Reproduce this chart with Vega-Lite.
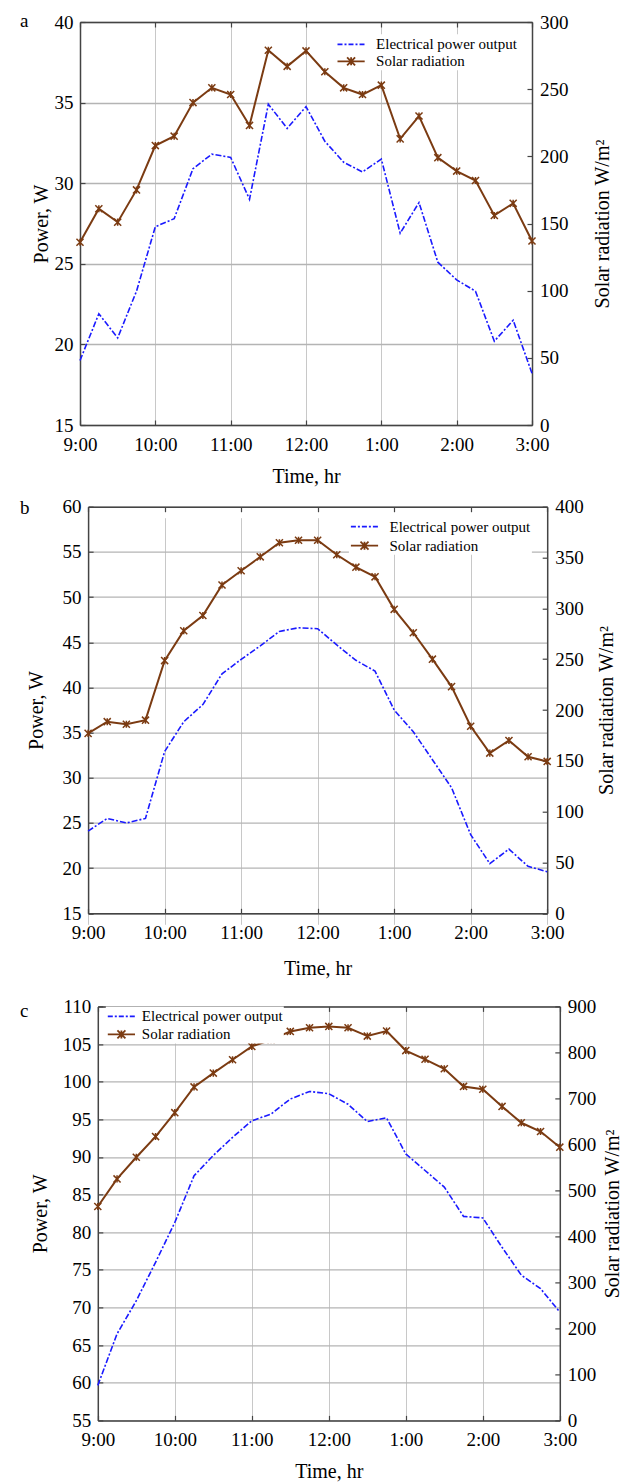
{
  "$schema": "https://vega.github.io/schema/vega-lite/v6.json",
  "autosize": {"type": "pad"},
  "padding": {"left": 20, "top": 11, "right": 5, "bottom": 0},
  "background": "white",
  "bounds": "flush",
  "spacing": 81.7,
  "datasets": {
    "a": [
      {"time": "9:00", "min": 0, "power": 19.0, "solar": 136},
      {"time": "9:15", "min": 15, "power": 21.9, "solar": 161},
      {"time": "9:30", "min": 30, "power": 20.4, "solar": 151},
      {"time": "9:45", "min": 45, "power": 23.3, "solar": 175},
      {"time": "10:00", "min": 60, "power": 27.3, "solar": 208},
      {"time": "10:15", "min": 75, "power": 27.8, "solar": 215},
      {"time": "10:30", "min": 90, "power": 30.9, "solar": 240},
      {"time": "10:45", "min": 105, "power": 31.8, "solar": 251},
      {"time": "11:00", "min": 120, "power": 31.6, "solar": 246},
      {"time": "11:15", "min": 135, "power": 29.0, "solar": 223},
      {"time": "11:30", "min": 150, "power": 34.9, "solar": 279},
      {"time": "11:45", "min": 165, "power": 33.4, "solar": 267},
      {"time": "12:00", "min": 180, "power": 34.75, "solar": 278.5},
      {"time": "12:15", "min": 195, "power": 32.6, "solar": 263},
      {"time": "12:30", "min": 210, "power": 31.3, "solar": 251},
      {"time": "12:45", "min": 225, "power": 30.7, "solar": 246},
      {"time": "1:00", "min": 240, "power": 31.5, "solar": 253},
      {"time": "1:15", "min": 255, "power": 26.9, "solar": 213},
      {"time": "1:30", "min": 270, "power": 28.8, "solar": 230},
      {"time": "1:45", "min": 285, "power": 25.1, "solar": 199},
      {"time": "2:00", "min": 300, "power": 24.0, "solar": 189},
      {"time": "2:15", "min": 315, "power": 23.3, "solar": 182},
      {"time": "2:30", "min": 330, "power": 20.2, "solar": 156},
      {"time": "2:45", "min": 345, "power": 21.5, "solar": 165},
      {"time": "3:00", "min": 360, "power": 18.2, "solar": 137}
    ],
    "b": [
      {"time": "9:00", "min": 0, "power": 24.1, "solar": 177},
      {"time": "9:15", "min": 15, "power": 25.5, "solar": 188.5},
      {"time": "9:30", "min": 30, "power": 25.0, "solar": 186},
      {"time": "9:45", "min": 45, "power": 25.5, "solar": 190},
      {"time": "10:00", "min": 60, "power": 32.9, "solar": 248.6},
      {"time": "10:15", "min": 75, "power": 36.2, "solar": 278},
      {"time": "10:30", "min": 90, "power": 38.1, "solar": 293},
      {"time": "10:45", "min": 105, "power": 41.5, "solar": 323},
      {"time": "11:00", "min": 120, "power": 43.1, "solar": 337},
      {"time": "11:15", "min": 135, "power": 44.6, "solar": 350.7},
      {"time": "11:30", "min": 150, "power": 46.2, "solar": 364.5},
      {"time": "11:45", "min": 165, "power": 46.6, "solar": 367},
      {"time": "12:00", "min": 180, "power": 46.5, "solar": 367},
      {"time": "12:15", "min": 195, "power": 44.7, "solar": 352.7},
      {"time": "12:30", "min": 210, "power": 43.0, "solar": 340.5},
      {"time": "12:45", "min": 225, "power": 41.8, "solar": 331},
      {"time": "1:00", "min": 240, "power": 37.5, "solar": 299},
      {"time": "1:15", "min": 255, "power": 35.1, "solar": 276},
      {"time": "1:30", "min": 270, "power": 32.0, "solar": 250},
      {"time": "1:45", "min": 285, "power": 28.9, "solar": 223},
      {"time": "2:00", "min": 300, "power": 23.7, "solar": 184},
      {"time": "2:15", "min": 315, "power": 20.5, "solar": 157.6},
      {"time": "2:30", "min": 330, "power": 22.1, "solar": 170},
      {"time": "2:45", "min": 345, "power": 20.2, "solar": 154},
      {"time": "3:00", "min": 360, "power": 19.6, "solar": 149.4}
    ],
    "c": [
      {"time": "9:00", "min": 0, "power": 59.65, "solar": 465},
      {"time": "9:15", "min": 15, "power": 66.5, "solar": 525},
      {"time": "9:30", "min": 30, "power": 70.9, "solar": 572},
      {"time": "9:45", "min": 45, "power": 76.0, "solar": 617},
      {"time": "10:00", "min": 60, "power": 81.3, "solar": 669},
      {"time": "10:15", "min": 75, "power": 87.5, "solar": 725},
      {"time": "10:30", "min": 90, "power": 90.2, "solar": 755},
      {"time": "10:45", "min": 105, "power": 92.6, "solar": 784},
      {"time": "11:00", "min": 120, "power": 94.8, "solar": 813},
      {"time": "11:15", "min": 135, "power": 95.7, "solar": 827.5},
      {"time": "11:30", "min": 150, "power": 97.7, "solar": 845.6},
      {"time": "11:45", "min": 165, "power": 98.7, "solar": 853.6},
      {"time": "12:00", "min": 180, "power": 98.4, "solar": 856.5},
      {"time": "12:15", "min": 195, "power": 97.0, "solar": 853.6},
      {"time": "12:30", "min": 210, "power": 94.7, "solar": 835.5},
      {"time": "12:45", "min": 225, "power": 95.2, "solar": 846.4},
      {"time": "1:00", "min": 240, "power": 90.4, "solar": 804},
      {"time": "1:15", "min": 255, "power": 88.2, "solar": 785},
      {"time": "1:30", "min": 270, "power": 86.0, "solar": 764.5},
      {"time": "1:45", "min": 285, "power": 82.1, "solar": 726},
      {"time": "2:00", "min": 300, "power": 81.9, "solar": 720},
      {"time": "2:15", "min": 315, "power": 78.0, "solar": 682.6},
      {"time": "2:30", "min": 330, "power": 74.3, "solar": 647},
      {"time": "2:45", "min": 345, "power": 72.5, "solar": 628},
      {"time": "3:00", "min": 360, "power": 69.4, "solar": 594}
    ]
  },
  "vconcat": [
    {
      "width": 452, "height": 403,
      "title": {"text": "a", "anchor": "start", "frame": "group", "dx": -60, "offset": -26.8, "baseline": "middle"},
      "data": {"name": "a"},
      "layer": [
        {
          "mark": {"type": "line", "strokeDash": [6, 2, 2, 2], "strokeWidth": 1.6},
          "encoding": {
            "x": {"field": "min", "type": "quantitative", "scale": {"domain": [0, 360], "nice": false, "zero": false},
              "axis": {"orient": "bottom", "values": [0, 60, 120, 180, 240, 300, 360], "labelExpr": "((floor(datum.value / 60) + 8) % 12 + 1) + ':00'", "title": "Time, hr", "grid": true, "labelPadding": 15, "titlePadding": 12}},
            "y": {"field": "power", "type": "quantitative", "scale": {"domain": [15, 40], "nice": false, "zero": false},
              "axis": {"orient": "left", "values": [15, 20, 25, 30, 35, 40], "title": "Power, W", "grid": true, "gridColor": "#b4b4b4", "gridWidth": 1.3, "labelPadding": 12, "titlePadding": 3}},
            "color": {"datum": "Electrical power output",
              "scale": {"domain": ["Electrical power output", "Solar radiation"], "range": ["#1a1aff", "#7b3b12"]},
              "legend": {"orient": "none", "legendX": 255.5, "legendY": 12.3, "title": null, "fillColor": "white", "padding": 1, "rowPadding": 0,
                "symbolSize": 256, "symbolStrokeWidth": 1.8, "labelOffset": 21.6, "labelFontSize": 15, "labelFont": "Liberation Serif", "labelColor": "black",
                "encode": {"symbols": {"update": {
                  "shape": {"signal": "datum.value === 'Solar radiation' ? 'M-1,0L2.4,0M0.2,-0.5L1.2,0.5M0.2,0.5L1.2,-0.5M0.7,-0.5L0.7,0.5' : 'M-1,0L2.4,0'"},
                  "strokeDash": {"signal": "datum.value === 'Solar radiation' ? [] : [5,2,2,2]"},
                  "fill": {"value": "transparent"}}}}}}
          }
        },
        {
          "mark": {"type": "line", "strokeWidth": 2, "point": {"shape": "M-1,-1L1,1M-1,1L1,-1M0,-1L0,1", "filled": false, "size": 50, "strokeWidth": 1.5}},
          "encoding": {
            "x": {"field": "min", "type": "quantitative", "scale": {"domain": [0, 360], "nice": false, "zero": false},
              "axis": {"orient": "top", "values": [0, 60, 120, 180, 240, 300, 360], "labels": false, "title": null, "grid": false}},
            "y": {"field": "solar", "type": "quantitative", "scale": {"domain": [0, 300], "nice": false, "zero": false},
              "axis": {"orient": "right", "values": [0, 50, 100, 150, 200, 250, 300], "title": "Solar radiation W/m²", "titleAngle": 270, "titleBaseline": "top", "grid": false, "labelPadding": 12.5, "titlePadding": 24}},
            "color": {"datum": "Solar radiation"}
          }
        }
      ],
      "resolve": {"scale": {"y": "independent"}, "axis": {"x": "independent"}}
    },
    {
      "width": 467.2, "height": 417.6,
      "title": {"text": "b", "anchor": "start", "frame": "group", "dx": -60, "offset": -28.8, "baseline": "middle"},
      "data": {"name": "b"},
      "layer": [
        {
          "mark": {"type": "line", "strokeDash": [6, 2, 2, 2], "strokeWidth": 1.6},
          "encoding": {
            "x": {"field": "min", "type": "quantitative", "scale": {"domain": [0, 360], "range": [8.1, 467.2], "nice": false, "zero": false},
              "axis": {"orient": "bottom", "offset": -11, "values": [0, 60, 120, 180, 240, 300, 360], "labelExpr": "((floor(datum.value / 60) + 8) % 12 + 1) + ':00'", "title": "Time, hr", "grid": true, "labelPadding": 15, "titlePadding": 16}},
            "y": {"field": "power", "type": "quantitative", "scale": {"domain": [15, 60], "range": [406.6, 0], "nice": false, "zero": false},
              "axis": {"orient": "left", "offset": -8.1, "values": [15, 20, 25, 30, 35, 40, 45, 50, 55, 60], "title": "Power, W", "grid": true, "gridColor": "#b4b4b4", "gridWidth": 1.3, "labelPadding": 12, "titlePadding": 16}},
            "color": {"datum": "Electrical power output",
              "scale": {"domain": ["Electrical power output", "Solar radiation"], "range": ["#1a1aff", "#7b3b12"]},
              "legend": {"orient": "none", "legendX": 268.9, "legendY": 10, "title": null, "fillColor": "white", "padding": 1, "rowPadding": 2,
                "symbolSize": 256, "symbolStrokeWidth": 1.8, "labelOffset": 21.6, "labelFontSize": 15, "labelFont": "Liberation Serif", "labelColor": "black",
                "encode": {"symbols": {"update": {
                  "shape": {"signal": "datum.value === 'Solar radiation' ? 'M-1,0L2.4,0M0.2,-0.5L1.2,0.5M0.2,0.5L1.2,-0.5M0.7,-0.5L0.7,0.5' : 'M-1,0L2.4,0'"},
                  "strokeDash": {"signal": "datum.value === 'Solar radiation' ? [] : [5,2,2,2]"},
                  "fill": {"value": "transparent"}}}}}}
          }
        },
        {
          "mark": {"type": "line", "strokeWidth": 2, "point": {"shape": "M-1,-1L1,1M-1,1L1,-1M0,-1L0,1", "filled": false, "size": 50, "strokeWidth": 1.5}},
          "encoding": {
            "x": {"field": "min", "type": "quantitative", "scale": {"domain": [0, 360], "range": [8.1, 467.2], "nice": false, "zero": false},
              "axis": {"orient": "top", "values": [0, 60, 120, 180, 240, 300, 360], "labels": false, "title": null, "grid": false}},
            "y": {"field": "solar", "type": "quantitative", "scale": {"domain": [0, 400], "range": [406.6, 0], "nice": false, "zero": false},
              "axis": {"orient": "right", "values": [0, 50, 100, 150, 200, 250, 300, 350, 400], "title": "Solar radiation W/m²", "titleAngle": 270, "titleBaseline": "top", "grid": false, "labelPadding": 12.5, "titlePadding": 13}},
            "color": {"datum": "Solar radiation"}
          }
        }
      ],
      "resolve": {"scale": {"y": "independent"}, "axis": {"x": "independent"}}
    },
    {
      "width": 479.8, "height": 414,
      "title": {"text": "c", "anchor": "start", "frame": "group", "dx": -60, "offset": -32.2, "baseline": "middle"},
      "data": {"name": "c"},
      "layer": [
        {
          "mark": {"type": "line", "strokeDash": [6, 2, 2, 2], "strokeWidth": 1.6},
          "encoding": {
            "x": {"field": "min", "type": "quantitative", "scale": {"domain": [0, 360], "range": [17.8, 479.8], "nice": false, "zero": false},
              "axis": {"orient": "bottom", "values": [0, 60, 120, 180, 240, 300, 360], "labelExpr": "((floor(datum.value / 60) + 8) % 12 + 1) + ':00'", "title": "Time, hr", "grid": true, "labelPadding": 15, "titlePadding": 12}},
            "y": {"field": "power", "type": "quantitative", "scale": {"domain": [55, 110], "nice": false, "zero": false},
              "axis": {"orient": "left", "offset": -17.8, "values": [55, 60, 65, 70, 75, 80, 85, 90, 95, 100, 105, 110], "title": "Power, W", "grid": true, "gridColor": "#b4b4b4", "gridWidth": 1.3, "labelPadding": 12, "titlePadding": 12}},
            "color": {"datum": "Electrical power output",
              "scale": {"domain": ["Electrical power output", "Solar radiation"], "range": ["#1a1aff", "#7b3b12"]},
              "legend": {"orient": "none", "legendX": 25.8, "legendY": 0, "title": null, "fillColor": "white", "padding": 1, "rowPadding": 1,
                "symbolSize": 256, "symbolStrokeWidth": 1.8, "labelOffset": 17, "labelFontSize": 15, "labelFont": "Liberation Serif", "labelColor": "black",
                "encode": {"symbols": {"update": {
                  "shape": {"signal": "datum.value === 'Solar radiation' ? 'M-1,0L2.4,0M0.2,-0.5L1.2,0.5M0.2,0.5L1.2,-0.5M0.7,-0.5L0.7,0.5' : 'M-1,0L2.4,0'"},
                  "strokeDash": {"signal": "datum.value === 'Solar radiation' ? [] : [5,2,2,2]"},
                  "fill": {"value": "transparent"}}}}}}
          }
        },
        {
          "mark": {"type": "line", "strokeWidth": 2, "point": {"shape": "M-1,-1L1,1M-1,1L1,-1M0,-1L0,1", "filled": false, "size": 50, "strokeWidth": 1.5}},
          "encoding": {
            "x": {"field": "min", "type": "quantitative", "scale": {"domain": [0, 360], "range": [17.8, 479.8], "nice": false, "zero": false},
              "axis": {"orient": "top", "values": [0, 60, 120, 180, 240, 300, 360], "labels": false, "title": null, "grid": false}},
            "y": {"field": "solar", "type": "quantitative", "scale": {"domain": [0, 900], "nice": false, "zero": false},
              "axis": {"orient": "right", "values": [0, 100, 200, 300, 400, 500, 600, 700, 800, 900], "title": "Solar radiation W/m²", "titleAngle": 270, "titleBaseline": "top", "grid": false, "labelPadding": 12.5, "titlePadding": 7}},
            "color": {"datum": "Solar radiation"}
          }
        }
      ],
      "resolve": {"scale": {"y": "independent"}, "axis": {"x": "independent"}}
    }
  ],
  "resolve": {"scale": {"x": "independent", "y": "independent", "color": "independent"}, "legend": {"color": "independent"}},
  "config": {
    "font": "Liberation Serif",
    "view": {"stroke": null},
    "axis": {"labelFont": "Liberation Serif", "labelFontSize": 19, "labelColor": "#000", "titleFont": "Liberation Serif", "titleFontSize": 20, "titleFontWeight": "normal", "titleColor": "#000", "domainColor": "#444", "domainWidth": 1.5, "tickColor": "#444", "tickSize": -5, "tickWidth": 1.2, "labelFlush": false, "labelOverlap": false, "gridColor": "#c8c8c8", "gridWidth": 1},
    "title": {"font": "Liberation Serif", "fontSize": 19, "fontWeight": "normal", "color": "#000"}
  }
}
